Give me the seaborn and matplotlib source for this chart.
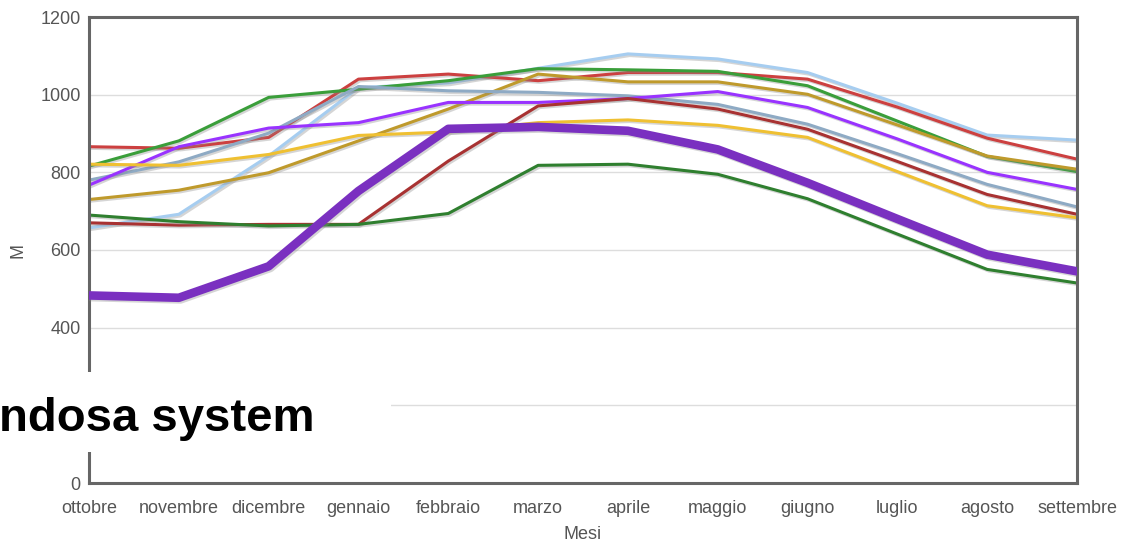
import numpy as np
import pandas as pd
import matplotlib
matplotlib.use("Agg")
import matplotlib.pyplot as plt
import matplotlib.patheffects as pe
from matplotlib.patches import Rectangle
import seaborn as sns

# months on the x axis
mesi = ["ottobre", "novembre", "dicembre", "gennaio", "febbraio", "marzo",
        "aprile", "maggio", "giugno", "luglio", "agosto", "settembre"]

# y tick labels (200 is hidden under the white box in the reference)
etichette_y = ["0", "", "400", "600", "800", "1000", "1200"]

# values
azzurro = [657, 692, 842, 1018, 1030, 1068, 1105, 1092, 1057, 978, 896, 883]
rosso = [866, 862, 890, 1040, 1053, 1036, 1057, 1057, 1040, 968, 888, 834]
verde = [816, 881, 993, 1014, 1036, 1067, 1064, 1060, 1023, 932, 841, 802]
ocra = [730, 754, 799, 881, 963, 1053, 1033, 1033, 1001, 922, 842, 808]
grigio = [780, 827, 901, 1021, 1010, 1006, 997, 975, 924, 848, 769, 711]
viola = [767, 866, 914, 928, 980, 980, 990, 1008, 967, 886, 800, 756]
rosso_scuro = [670, 664, 666, 666, 829, 971, 990, 963, 911, 828, 743, 692]
giallo = [821, 818, 846, 895, 904, 928, 935, 921, 890, 802, 714, 683]
verde_scuro = [690, 673, 662, 666, 694, 818, 821, 795, 732, 641, 550, 515]
viola_spesso = [483, 477, 558, 752, 912, 917, 907, 859, 773, 680, 588, 545]

series = {
    "azzurro": azzurro,
    "rosso": rosso,
    "verde": verde,
    "ocra": ocra,
    "grigio": grigio,
    "viola": viola,
    "rosso scuro": rosso_scuro,
    "giallo": giallo,
    "verde scuro": verde_scuro,
    "viola spesso": viola_spesso,
}

colori = {
    "azzurro": "#a6cdf0",
    "rosso": "#cc4040",
    "verde": "#3a9e3a",
    "ocra": "#bf9a2c",
    "grigio": "#8eaac4",
    "viola": "#9933ff",
    "rosso scuro": "#a83232",
    "giallo": "#efc032",
    "verde scuro": "#2f7f2f",
    "viola spesso": "#7a30c0",
}

W, H = 1121, 545


def main():
    sns.set_theme(style="white")
    plt.rcParams["font.family"] = ["Liberation Sans", "DejaVu Sans"]

    fig = plt.figure(figsize=(W / 100, H / 100), dpi=100)
    ax = fig.add_axes([89 / W, 1 - 483 / H, (1077 - 89) / W, (483 - 17) / H])

    x = np.arange(len(mesi))
    shadow = [pe.SimpleLineShadow(offset=(1.2, -1.2), shadow_color="#888888", alpha=0.35), pe.Normal()]

    for nome, valori in series.items():
        lw = 6.2 if nome == "viola spesso" else 2.2
        sns.lineplot(x=x, y=valori, ax=ax, color=colori[nome], linewidth=lw,
                     path_effects=shadow, zorder=3 if nome == "viola spesso" else 2)

    ax.set_xlim(0, len(mesi) - 1)
    ax.set_ylim(0, 1200)
    ax.set_xticks(x)
    ax.set_xticklabels(mesi)
    ax.set_yticks(range(0, 1201, 200))
    ax.set_yticklabels(etichette_y)
    ax.yaxis.grid(True, color="#dddddd", linewidth=1)
    ax.xaxis.grid(False)
    ax.tick_params(axis="both", labelsize=13, labelcolor="#555555", length=0)
    ax.tick_params(axis="x", pad=12)
    ax.tick_params(axis="y", pad=6)
    for spine in ax.spines.values():
        spine.set_color("#666666")
        spine.set_linewidth(2.2)

    ax.set_xlabel("Mesi", fontsize=13, color="#555555", labelpad=7)
    ax.set_ylabel("M", fontsize=13, color="#555555", labelpad=10)

    # white box with the cut-off caption on top of the chart
    fig.add_artist(Rectangle((0, 1 - 452 / H), 391 / W, 80 / H, transform=fig.transFigure,
                             facecolor="white", edgecolor="none", zorder=10))
    fig.text(-1 / W, 1 - 431 / H, "ndosa system", fontsize=34, fontweight="bold",
             color="black", va="baseline", ha="left", zorder=11)

    fig.savefig("out.png", dpi=100)


if __name__ == "__main__":
    main()
